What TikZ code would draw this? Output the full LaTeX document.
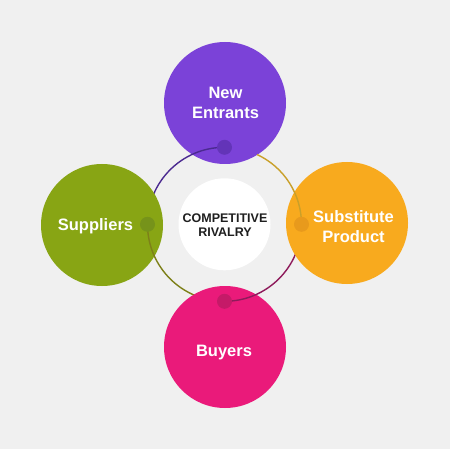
\documentclass[tikz,border=0pt]{standalone}
\usepackage{fontspec}
\setmainfont{Liberation Sans}
\definecolor{bggray}{HTML}{F0F0F0}
\definecolor{entrantviolet}{HTML}{7B42D8}
\definecolor{supplygreen}{HTML}{88A514}
\definecolor{substorange}{HTML}{F8AA1E}
\definecolor{buyerpink}{HTML}{EA1A7A}
\definecolor{violetdot}{HTML}{6334B8}
\definecolor{greendot}{HTML}{76931A}
\definecolor{orangedot}{HTML}{E89A1C}
\definecolor{pinkdot}{HTML}{C51A68}
\definecolor{violetarc}{HTML}{4B2A90}
\definecolor{olivearc}{HTML}{7D8019}
\definecolor{magentaarc}{HTML}{8E1B5B}
\definecolor{goldarc}{HTML}{C9A02A}

\begin{document}
\begin{tikzpicture}[x=1pt,y=-1pt,
	force/.style={circle,minimum size=122pt,inner sep=0pt},
	forcetext/.style={text=white,align=center,font=\fontsize{16.5}{20}\selectfont\bfseries},
	joint/.style={circle,minimum size=15pt,inner sep=0pt},
	ringarc/.style={line width=1.4pt}]
		\useasboundingbox (0,0) rectangle (450,470);
		\fill[bggray] (0,0) rectangle (450,449);
		\fill[white] (0,449) rectangle (450,470);
		\coordinate (C) at (224.5,224.3);
		\node[circle,fill=white,minimum size=92pt,inner sep=0pt] (core) at (C) {};
		\node[align=center,text=black!88,font=\fontsize{12.5}{14}\selectfont\bfseries] (rivalry) at (225,225) {COMPETITIVE\\RIVALRY};
		\node[force,fill=entrantviolet] (entrants) at (225,103) {};
		\draw[ringarc,violetarc] (C) ++(270:77) coordinate (topjoint) arc[start angle=270,end angle=180,radius=77];
		\node[force,fill=supplygreen] (suppliers) at (102,225) {};
		\draw[ringarc,olivearc] (C) ++(180:77) coordinate (leftjoint) arc[start angle=180,end angle=90,radius=77];
		\node[force,fill=buyerpink] (buyers) at (225,347) {};
		\draw[ringarc,magentaarc] (C) ++(90:77) coordinate (bottomjoint) arc[start angle=90,end angle=0,radius=77];
		\node[force,fill=substorange] (substitutes) at (347,223) {};
		\draw[ringarc,goldarc] (C) ++(0:77) coordinate (rightjoint) arc[start angle=360,end angle=295,radius=77];
		\node[joint,fill=violetdot] (topdot) at (topjoint) {};
		\node[joint,fill=greendot] (leftdot) at (leftjoint) {};
		\node[joint,fill=pinkdot] (bottomdot) at (bottomjoint) {};
		\node[joint,fill=orangedot] (rightdot) at (rightjoint) {};
		\node[forcetext] (entrantslabel) at (225.5,103) {New\\Entrants};
		\node[forcetext] (supplierslabel) at (95.5,226) {Suppliers};
		\node[forcetext] (substituteslabel) at (353.5,227) {Substitute\\Product};
		\node[forcetext] (buyerslabel) at (224,353) {Buyers};
	\end{tikzpicture}
\end{document}
